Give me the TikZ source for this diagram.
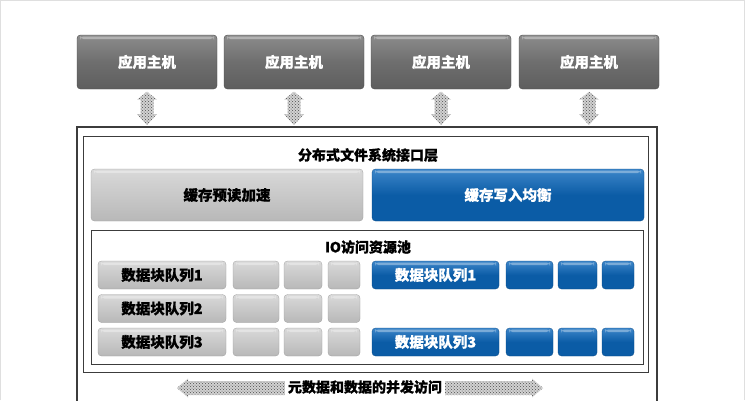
\documentclass[tikz,border=0pt]{standalone}
\usepackage{fontspec}
\setmainfont{Noto Sans CJK SC}[BoldFeatures={FakeBold=0.8}]
\usetikzlibrary{patterns,calc}
\definecolor{hostdark}{HTML}{5E5E5E}
\definecolor{hostlight}{HTML}{8C8C8C}
\definecolor{greydark}{HTML}{B8B8B8}
\definecolor{greylight}{HTML}{D9D9D9}
\definecolor{bluedark}{HTML}{0B5CA6}
\definecolor{bluelight}{HTML}{3D86C9}
\definecolor{framecol}{HTML}{3C3C3C}
\tikzset{
  gloss/.style={path picture={\fill[white,opacity=0.35]
      ([xshift=3pt,yshift=-1.5pt]path picture bounding box.north west) rectangle
      ([xshift=-3pt,yshift=-4pt]path picture bounding box.north east);}},
  boxbase/.style={rounded corners=3.5pt, inner sep=0pt, font=\bfseries\fontsize{14.5}{16}\selectfont, gloss},
  hostbox/.style={boxbase, top color=hostlight, bottom color=hostdark, middle color=hostdark!90, text=white,
      minimum width=140pt, minimum height=54pt, draw=hostdark!80!black, line width=0.4pt},
  greybox/.style={boxbase, top color=greylight, bottom color=greydark, text=black, draw=greydark!85!black, line width=0.3pt},
  bluebox/.style={boxbase, top color=bluelight, bottom color=bluedark, middle color=bluedark, text=white, draw=bluedark!80!black, line width=0.3pt},
  rowbox/.style={minimum height=28pt},
  frameline/.style={draw=framecol, line width=1.1pt},
  titletext/.style={font=\bfseries\fontsize{14}{16}\selectfont, inner sep=0pt},
  arrfill/.style={fill=gray!35, postaction={pattern=crosshatch dots, pattern color=gray!60!black}},
}
\newcommand\vdarr[2]{%
  \path[arrfill] let \p1=(#1), \p2=(#2) in
   (\x1,\y1) -- (\x1+10pt,\y1-8pt) -- (\x1+6.5pt,\y1-8pt) -- (\x1+6.5pt,\y2+11pt)
   -- (\x1+10pt,\y2+11pt) -- (\x2,\y2) -- (\x1-10pt,\y2+11pt) -- (\x1-6.5pt,\y2+11pt)
   -- (\x1-6.5pt,\y1-8pt) -- (\x1-10pt,\y1-8pt) -- cycle;}
\begin{document}
\begin{tikzpicture}[x=1pt,y=-1pt]
\useasboundingbox (0,0) rectangle (749,400);
\draw[gray!25, line width=0.8pt] (0.5,400) -- (0.5,0.5) -- (744,0.5) -- (744,400);

% hosts
\foreach \i/\cx in {1/147,2/294,3/441,4/589}{
  \node[hostbox] (h\i) at (\cx,62) {应用主机};
}

% outer frames
\begin{scope}
\clip (0,0) rectangle (749,400);
\path[frameline] (77,127) rectangle (657,410);
\end{scope}
\coordinate (ftop) at (0,127);
\path[frameline, line width=1pt] (83,136) rectangle (648,372);
\node[titletext] (t1) at (368,155) {分布式文件系统接口层};

% arrows hosts <-> frame
\foreach \i in {1,2,3,4}{
  \coordinate (at\i) at ($(h\i.south)+(0,2.5)$);
  \coordinate (ab\i) at ($(h\i.south |- ftop)+(0,-2)$);
  \vdarr{at\i}{ab\i}
}

% cache boxes
\node[greybox, minimum width=272pt, minimum height=52pt] (cr) at (227,195) {缓存预读加速};
\node[bluebox, minimum width=272pt, minimum height=52pt] (cw) at (508,195) {缓存写入均衡};

% IO pool
\path[frameline, line width=1pt] (91,230) rectangle (643,364);
\node[titletext] (t2) at (368,247) {IO访问资源池};

% grey queues
\foreach \r/\y in {1/275,2/308.5,3/342}{
  \node[greybox, rowbox, minimum width=128pt] (gq\r) at (162,\y) {数据块队列\r};
  \node[greybox, rowbox, minimum width=46pt] (ga\r) at (256,\y) {};
  \node[greybox, rowbox, minimum width=38pt] (gb\r) at (303,\y) {};
  \node[greybox, rowbox, minimum width=32pt] (gc\r) at (344,\y) {};
}
% blue queues
\foreach \r/\y in {1/275,3/342}{
  \node[bluebox, rowbox, minimum width=127pt] (bq\r) at (435.5,\y) {数据块队列\r};
  \node[bluebox, rowbox, minimum width=47pt] (ba\r) at (529.5,\y) {};
  \node[bluebox, rowbox, minimum width=39pt] (bb\r) at (577.5,\y) {};
  \node[bluebox, rowbox, minimum width=32pt] (bc\r) at (618,\y) {};
}

% bottom text and arrows
\node[titletext] (bt) at (365,387) {元数据和数据的并发访问};
\coordinate (la) at (177,388);
\coordinate (ra) at (543,388);
\path[arrfill] let \p1=(la), \p2=(bt.west) in
  (\x1,\y1) -- (\x1+11pt,\y1+9.5pt) -- (\x1+11pt,\y1+7pt) -- (\x2-3pt,\y1+7pt)
  -- (\x2-3pt,\y1-7pt) -- (\x1+11pt,\y1-7pt) -- (\x1+11pt,\y1-9.5pt) -- cycle;
\path[arrfill] let \p1=(ra), \p2=(bt.east) in
  (\x1,\y1) -- (\x1-11pt,\y1+9.5pt) -- (\x1-11pt,\y1+7pt) -- (\x2+3pt,\y1+7pt)
  -- (\x2+3pt,\y1-7pt) -- (\x1-11pt,\y1-7pt) -- (\x1-11pt,\y1-9.5pt) -- cycle;
\end{tikzpicture}
\end{document}
